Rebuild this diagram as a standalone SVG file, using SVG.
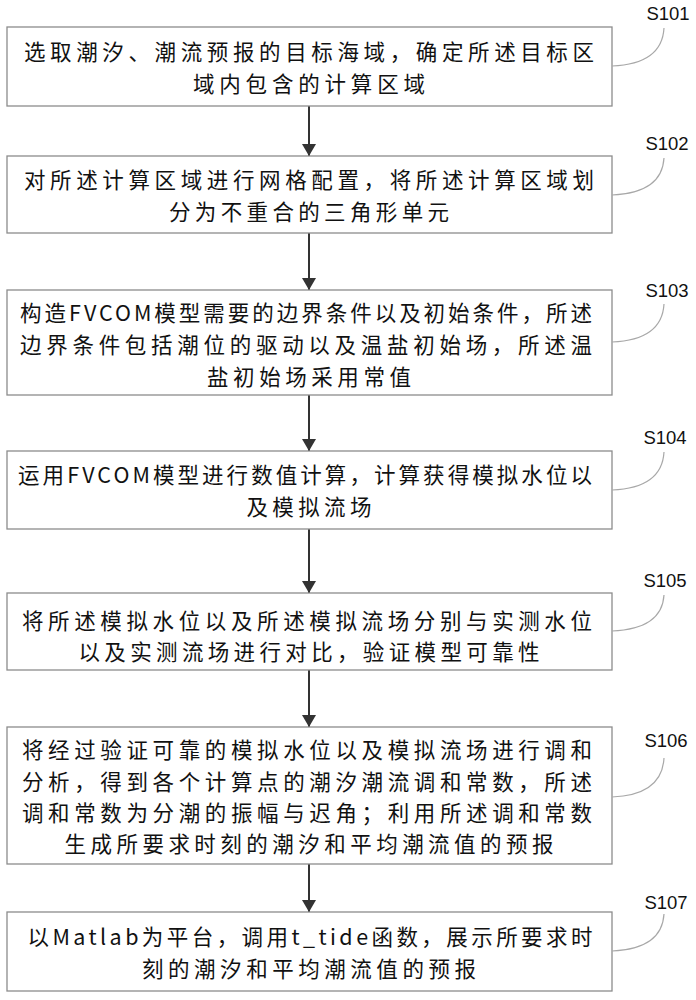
<svg xmlns="http://www.w3.org/2000/svg" width="696" height="1000" viewBox="0 0 696 1000">
<style>
.box{fill:#fff;stroke:#8c8c8c;stroke-width:1.3}
.t{font-family:"Noto Sans CJK SC","Noto Sans",sans-serif;font-size:21.5px;fill:#111;text-anchor:middle;dominant-baseline:central}
.lbl{font-family:"Liberation Sans","Noto Sans",sans-serif;font-size:18.5px;fill:#111;text-anchor:middle;dominant-baseline:central}
.co{fill:none;stroke:#a8a8a8;stroke-width:1.2}
.ar{stroke:#333;stroke-width:2;fill:none;marker-end:url(#ah)}
</style>
<defs>
<marker id="ah" viewBox="0 0 12 14" refX="12" refY="7" markerWidth="12" markerHeight="14" markerUnits="userSpaceOnUse" orient="auto">
<path d="M0,0 L12,7 L0,14 Z" fill="#333"/>
</marker>
</defs>
<rect width="696" height="1000" fill="#fff"/>
<g id="connectors">
<line class="ar" x1="309" y1="106" x2="309" y2="156"/>
<line class="ar" x1="309" y1="233" x2="309" y2="290"/>
<line class="ar" x1="309" y1="395" x2="309" y2="451"/>
<line class="ar" x1="309" y1="529" x2="309" y2="593"/>
<line class="ar" x1="309" y1="670" x2="309" y2="727"/>
<line class="ar" x1="309" y1="864" x2="309" y2="912"/>
</g>
<g id="S101">
<rect class="box" x="7" y="27" width="605" height="79"/>
<text class="t" x="309" y="50" textLength="570" lengthAdjust="spacing">选取潮汐、潮流预报的目标海域，确定所述目标区</text>
<text class="t" x="309" y="82" textLength="232" lengthAdjust="spacing">域内包含的计算区域</text>
<path class="co" d="M612,66 Q662,64 664,28"/>
<text class="lbl" x="668" y="13">S101</text>
</g>
<g id="S102">
<rect class="box" x="7" y="156" width="605" height="77"/>
<text class="t" x="309" y="178" textLength="570" lengthAdjust="spacing">对所述计算区域进行网格配置，将所述计算区域划</text>
<text class="t" x="309" y="210" textLength="280" lengthAdjust="spacing">分为不重合的三角形单元</text>
<path class="co" d="M612,195 Q662,193 664,158"/>
<text class="lbl" x="667" y="143">S102</text>
</g>
<g id="S103">
<rect class="box" x="7" y="290" width="605" height="105"/>
<text class="t" x="306" y="311" textLength="572" lengthAdjust="spacing">构造FVCOM模型需要的边界条件以及初始条件，所述</text>
<text class="t" x="306" y="343" textLength="572" lengthAdjust="spacing">边界条件包括潮位的驱动以及温盐初始场，所述温</text>
<text class="t" x="309" y="375" textLength="204" lengthAdjust="spacing">盐初始场采用常值</text>
<path class="co" d="M612,342 Q662,340 664,304"/>
<text class="lbl" x="667" y="290">S103</text>
</g>
<g id="S104">
<rect class="box" x="7" y="451" width="605" height="78"/>
<text class="t" x="305" y="473" textLength="574" lengthAdjust="spacing">运用FVCOM模型进行数值计算，计算获得模拟水位以</text>
<text class="t" x="309" y="505" textLength="125" lengthAdjust="spacing">及模拟流场</text>
<path class="co" d="M612,490 Q662,488 664,452"/>
<text class="lbl" x="665" y="437">S104</text>
</g>
<g id="S105">
<rect class="box" x="7" y="593" width="605" height="77"/>
<text class="t" x="307" y="619" textLength="570" lengthAdjust="spacing">将所述模拟水位以及所述模拟流场分别与实测水位</text>
<text class="t" x="309" y="650" textLength="461" lengthAdjust="spacing">以及实测流场进行对比，验证模型可靠性</text>
<path class="co" d="M612,631 Q662,629 664,595"/>
<text class="lbl" x="665" y="580">S105</text>
</g>
<g id="S106">
<rect class="box" x="7" y="727" width="605" height="137"/>
<text class="t" x="307" y="748" textLength="570" lengthAdjust="spacing">将经过验证可靠的模拟水位以及模拟流场进行调和</text>
<text class="t" x="307" y="780" textLength="570" lengthAdjust="spacing">分析，得到各个计算点的潮汐潮流调和常数，所述</text>
<text class="t" x="307" y="811" textLength="570" lengthAdjust="spacing">调和常数为分潮的振幅与迟角；利用所述调和常数</text>
<text class="t" x="309" y="842" textLength="489" lengthAdjust="spacing">生成所要求时刻的潮汐和平均潮流值的预报</text>
<path class="co" d="M612,797 Q662,795 664,758"/>
<text class="lbl" x="666" y="740">S106</text>
</g>
<g id="S107">
<rect class="box" x="7" y="912" width="605" height="79"/>
<text class="t" x="310" y="935" textLength="565" lengthAdjust="spacing">以Matlab为平台，调用t_tide函数，展示所要求时</text>
<text class="t" x="309" y="967" textLength="334" lengthAdjust="spacing">刻的潮汐和平均潮流值的预报</text>
<path class="co" d="M612,951 Q662,949 664,914"/>
<text class="lbl" x="666" y="902">S107</text>
</g>
</svg>
